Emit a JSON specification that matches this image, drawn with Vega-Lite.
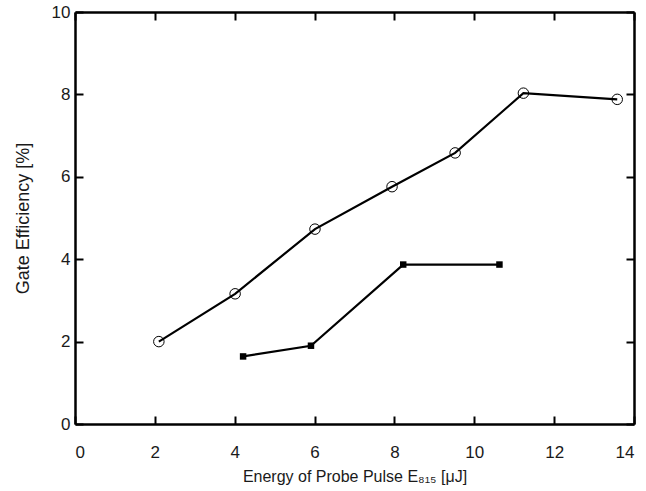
{
  "$schema": "https://vega.github.io/schema/vega-lite/v6.json",
  "width": 559,
  "height": 412,
  "autosize": {"type": "none"},
  "padding": {"left": 75, "top": 12, "right": 12, "bottom": 67},
  "background": "white",
  "config": {
    "view": {"stroke": null},
    "font": "Liberation Sans",
    "axis": {
      "grid": false,
      "domainColor": "black",
      "domainWidth": 2.5,
      "tickColor": "black",
      "tickWidth": 2,
      "tickSize": -8,
      "labelFont": "Liberation Sans",
      "labelFontSize": 17,
      "labelColor": "#1a1a1a",
      "titleFont": "Liberation Sans",
      "titleFontSize": 16,
      "titleFontWeight": "normal",
      "titleColor": "#1a1a1a"
    }
  },
  "data": {
    "values": [
      {"series": "A", "energy": 2.1, "eff": 2.0},
      {"series": "A", "energy": 4.01, "eff": 3.16},
      {"series": "A", "energy": 6.01, "eff": 4.73},
      {"series": "A", "energy": 7.94, "eff": 5.76},
      {"series": "A", "energy": 9.52, "eff": 6.58},
      {"series": "A", "energy": 11.23, "eff": 8.03},
      {"series": "A", "energy": 13.58, "eff": 7.88},
      {"series": "B", "energy": 4.21, "eff": 1.64},
      {"series": "B", "energy": 5.91, "eff": 1.9},
      {"series": "B", "energy": 8.22, "eff": 3.87},
      {"series": "B", "energy": 10.63, "eff": 3.87}
    ]
  },
  "layer": [
    {
      "mark": {"type": "line", "color": "black", "strokeWidth": 2.2},
      "encoding": {
        "x": {
          "field": "energy", "type": "quantitative",
          "scale": {"domain": [0, 14], "nice": false},
          "axis": {"orient": "bottom", "values": [0, 2, 4, 6, 8, 10, 12, 14], "labelPadding": 28, "title": "Energy of Probe Pulse E₈₁₅  [μJ]", "titlePadding": 8}
        },
        "y": {
          "field": "eff", "type": "quantitative",
          "scale": {"domain": [0, 10], "nice": false},
          "axis": {"orient": "left", "values": [0, 2, 4, 6, 8, 10], "labelPadding": 13, "title": "Gate Efficiency   [%]", "titleFontSize": 18, "titlePadding": 19}
        },
        "detail": {"field": "series"}
      }
    },
    {
      "transform": [{"filter": "datum.series === 'A'"}],
      "mark": {"type": "point", "shape": "circle", "filled": false, "stroke": "black", "strokeWidth": 1, "size": 110, "opacity": 1},
      "encoding": {
        "x": {"field": "energy", "type": "quantitative", "axis": {"orient": "top", "labels": false, "title": null, "values": [0, 2, 4, 6, 8, 10, 12, 14]}},
        "y": {"field": "eff", "type": "quantitative", "axis": {"orient": "right", "labels": false, "title": null, "values": [0, 2, 4, 6, 8, 10]}}
      }
    },
    {
      "transform": [{"filter": "datum.series === 'B'"}],
      "mark": {"type": "square", "color": "black", "size": 42, "opacity": 1},
      "encoding": {
        "x": {"field": "energy", "type": "quantitative", "axis": null},
        "y": {"field": "eff", "type": "quantitative", "axis": null}
      }
    }
  ],
  "resolve": {"axis": {"x": "independent", "y": "independent"}}
}
